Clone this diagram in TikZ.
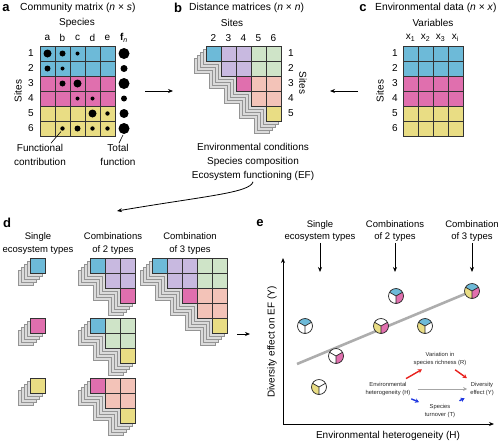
\documentclass[tikz,border=0pt]{standalone}
\usepackage{fontspec}
\setmainfont{Liberation Sans}
\usetikzlibrary{arrows.meta}

\definecolor{siteblue}{HTML}{6DBAD8}
\definecolor{sitepink}{HTML}{E06FAE}
\definecolor{siteyellow}{HTML}{E9DD84}
\definecolor{pairlav}{HTML}{C8B9E0}
\definecolor{pairgreen}{HTML}{CFE4C8}
\definecolor{pairsalmon}{HTML}{F3C3B8}
\definecolor{redpath}{HTML}{E8221E}
\definecolor{bluepath}{HTML}{1E36E0}

\tikzset{
  every node/.style={font=\fontsize{10}{12}\selectfont, inner sep=1pt},
  panelletter/.style={font=\fontsize{13}{13}\selectfont\bfseries},
  paneltitle/.style={anchor=west, font=\fontsize{10.3}{12}\selectfont},
  heading/.style={align=center, font=\fontsize{9.5}{12.5}\selectfont},
  notes/.style={align=center, font=\fontsize{10}{14}\selectfont},
  inset/.style={align=center, font=\fontsize{5.8}{8}\selectfont, text=black!85},
  cellbox/.style={draw=black!80, line width=0.7pt},
  plate/.style={fill=black!14, draw=black!42, line width=0.5pt},
  arr/.style={-{Stealth[length=5pt,width=4pt]}, line width=0.8pt},
  leader/.style={line width=0.6pt},
  axisline/.style={-{Stealth[length=5pt,width=4pt]}, line width=0.9pt},
  trendline/.style={line width=2.6pt, black!32},
  pieline/.style={line width=0.7pt, black!85},
  grayarr/.style={-{Stealth[length=4pt,width=4pt]}, line width=0.8pt, black!35},
  redarr/.style={-{Stealth[length=4pt,width=4.5pt]}, line width=1.4pt, redpath, shorten <=5pt, shorten >=5pt},
  bluearr/.style={-{Stealth[length=4pt,width=4.5pt]}, line width=1.4pt, bluepath, shorten <=5pt, shorten >=5pt},
}

% stacked upper-triangular matrix: x, y, size, cells c/r/colour
\newcommand{\stairmat}[4]{%
  \foreach \d in {4,3,2,1}{%
    \filldraw[plate] ({#1-3*\d},{#2+3*\d}) -- ++({#3*15},0) -- ++(0,{#3*15})
      \foreach \k in {1,...,#3}{ -- ++(-15,0) -- ++(0,-15)} -- cycle;
  }
  \foreach \c/\r/\col in {#4}{%
    \filldraw[cellbox, fill=\col] ({#1+(\c-1)*15},{#2+(\r-1)*15}) rectangle ++(15,15);
  }
}

% three-part circle: name, position, top, lower left, lower right
\newcommand{\ecopie}[5]{%
  \coordinate (#1) at (#2);
  \fill[#3] (#1) -- ++(-30:7.5) arc[start angle=-30, end angle=-150, radius=7.5] -- cycle;
  \fill[#4] (#1) -- ++(-150:7.5) arc[start angle=-150, end angle=-270, radius=7.5] -- cycle;
  \fill[#5] (#1) -- ++(-270:7.5) arc[start angle=-270, end angle=-390, radius=7.5] -- cycle;
  \draw[pieline] (#1) circle[radius=7.5] (#1) -- ++(-30:7.5) (#1) -- ++(-150:7.5) (#1) -- ++(90:7.5);
}

\begin{document}
\begin{tikzpicture}[x=1pt,y=-1pt]
\useasboundingbox (0,0) rectangle (500,442);

% a
\node[panelletter] (alab) at (6,8) {a};
\node[paneltitle] (atitle) at (19,8) {Community matrix (\textit{n} × \textit{s})};
\node (aspecies) at (77,23) {Species};
\foreach \l [count=\c] in {a,b,c,d,e}
  \node (acol\l) at ({32.5+\c*15},38) {\l};
\node (acolf) at (124,38) {\textbf{f}\textsubscript{\textit{n}}};
\node[rotate=90] (asites) at (18,91) {Sites};
\foreach \r/\col in {1/siteblue,2/siteblue,3/sitepink,4/sitepink,5/siteyellow,6/siteyellow}{
  \node (arow\r) at (31,{38.5+\r*15}) {\r};
  \foreach \c in {1,...,5}
    \filldraw[cellbox, fill=\col] ({25+\c*15},{31+\r*15}) rectangle ++(15,15);
}
\foreach \c/\r/\s in {1/1/4,2/1/3,3/1/2,1/2/3,2/2/2,2/3/3,3/3/4,3/4/2,4/4/2,
                      4/5/4,5/5/2.2,2/6/2.2,3/6/3,4/6/2.2,5/6/2.2}{
  \coordinate (dot\c\r) at ({32.5+\c*15},{38.5+\r*15});
  \fill (dot\c\r) circle[radius=\s];
}
\foreach \r/\s in {1/5.5,2/3.5,3/5.5,4/3,5/4.5,6/5.5}{
  \coordinate (f\r) at (124,{38.5+\r*15});
  \fill (f\r) circle[radius=\s];
}
\node[notes] (afunc) at (40,155) {Functional\\contribution};
\node[notes] (atotal) at (118,155) {Total\\function};
\draw[leader] ([xshift=11pt]afunc.north) -- ([shift={(-1.5,3)}]dot26);
\draw[leader] ([xshift=1pt]atotal.north) -- ([shift={(-1,6.5)}]f6);

\coordinate (atob1) at (145,91);
\coordinate (atob2) at (173,91);
\draw[arr] (atob1) -- (atob2);

% b
\node[panelletter] (blab) at (178,8) {b};
\node[paneltitle] (btitle) at (188,8) {Distance matrices (\textit{n} × \textit{n})};
\node (bsites) at (232,23) {Sites};
\foreach \j in {2,...,6}
  \node (bcol\j) at ({213.5+(\j-2)*15},38) {\j};
\foreach \i in {1,...,5}
  \node (brow\i) at (291,{53.5+(\i-1)*15}) {\i};
\node[rotate=-90] (bsitesr) at (303,83) {Sites};
\stairmat{206}{46}{5}{1/1/siteblue,2/1/pairlav,3/1/pairlav,4/1/pairgreen,5/1/pairgreen,
  2/2/pairlav,3/2/pairlav,4/2/pairgreen,5/2/pairgreen,3/3/sitepink,4/3/pairsalmon,
  5/3/pairsalmon,4/4/pairsalmon,5/4/pairsalmon,5/5/siteyellow}
\node[notes] (bnotes) at (253,162) {Environmental conditions\\Species composition\\Ecosystem functioning (EF)};

\coordinate (ctob1) at (358,91);
\coordinate (ctob2) at (330,91);
\draw[arr] (ctob1) -- (ctob2);

% c
\node[panelletter] (clab) at (363,8) {c};
\node[paneltitle] (ctitle) at (374,8) {Environmental data (\textit{n} × \textit{x})};
\node (cvars) at (433,23) {Variables};
\foreach \v [count=\c] in {1,2,3,i}
  \node (ccol\c) at ({395.5+\c*15},38) {x\textsubscript{\v}};
\node[rotate=90] (csites) at (380,91) {Sites};
\foreach \r/\col in {1/siteblue,2/siteblue,3/sitepink,4/sitepink,5/siteyellow,6/siteyellow}{
  \node (crow\r) at (395,{38.5+\r*15}) {\r};
  \foreach \c in {1,...,4}
    \filldraw[cellbox, fill=\col] ({388+\c*15},{31+\r*15}) rectangle ++(15,15);
}

\coordinate (dtip) at (117,211);
\draw[arr] (bnotes.south) .. controls +(-3,11) and (205,196) .. (dtip);

% d
\node[panelletter] (dlab) at (7,223) {d};
\node[heading] (dsingle) at (38,243.5) {Single\\ecosystem types};
\node[heading] (dpairs) at (113,243.5) {Combinations\\of 2 types};
\node[heading] (dtriple) at (190,243.5) {Combination\\of 3 types};
\stairmat{30}{258}{1}{1/1/siteblue}
\stairmat{30}{318}{1}{1/1/sitepink}
\stairmat{30}{378}{1}{1/1/siteyellow}
\stairmat{90}{258}{3}{1/1/siteblue,2/1/pairlav,3/1/pairlav,2/2/pairlav,3/2/pairlav,3/3/sitepink}
\stairmat{90}{318}{3}{1/1/siteblue,2/1/pairgreen,3/1/pairgreen,2/2/pairgreen,3/2/pairgreen,3/3/siteyellow}
\stairmat{90}{378}{3}{1/1/sitepink,2/1/pairsalmon,3/1/pairsalmon,2/2/pairsalmon,3/2/pairsalmon,3/3/siteyellow}
\stairmat{152}{258}{5}{1/1/siteblue,2/1/pairlav,3/1/pairlav,4/1/pairgreen,5/1/pairgreen,
  2/2/pairlav,3/2/pairlav,4/2/pairgreen,5/2/pairgreen,3/3/sitepink,4/3/pairsalmon,
  5/3/pairsalmon,4/4/pairsalmon,5/4/pairsalmon,5/5/siteyellow}

\coordinate (dtoe1) at (237,334);
\coordinate (dtoe2) at (250,334);
\draw[arr] (dtoe1) -- (dtoe2);

% e
\node[panelletter] (elab) at (260,223) {e};
\node[heading] (esingle) at (320,231) {Single\\ecosystem types};
\node[heading] (epairs) at (395,231) {Combinations\\of 2 types};
\node[heading] (etriple) at (472,231) {Combination\\of 3 types};
\coordinate (esingletip) at (320,272);
\coordinate (epairstip) at (395,272);
\coordinate (etripletip) at (472,272);
\draw[arr] (esingle) -- (esingletip);
\draw[arr] (epairs) -- (epairstip);
\draw[arr] (etriple) -- (etripletip);

\coordinate (origin) at (283,424);
\coordinate (ytop) at (283,258);
\coordinate (xend) at (494,424);
\draw[axisline] (origin) -- (ytop);
\draw[axisline] (origin) -- (xend);
\node[rotate=90] (ylabel) at (272,342) {Diversity effect on EF (Y)};
\node (xlabel) at (388,436) {Environmental heterogeneity (H)};

\coordinate (trendlow) at (297,364);
\coordinate (trendhigh) at (472,291);
\draw[trendline] (trendlow) -- (trendhigh);

\ecopie{pieb}{305,326}{siteblue}{white}{white}
\ecopie{piep}{336,356}{white}{white}{sitepink}
\ecopie{piey}{319,387}{white}{siteyellow}{white}
\ecopie{piebp}{396,296}{siteblue}{white}{sitepink}
\ecopie{pieyp}{381,326}{white}{siteyellow}{sitepink}
\ecopie{pieby}{425,326}{siteblue}{siteyellow}{white}
\ecopie{piebyp}{472,291}{siteblue}{siteyellow}{sitepink}

\node[inset] (hetero) at (388,389) {Environmental\\heterogeneity (H)};
\node[inset] (richness) at (440,359) {Variation in\\species richness (R)};
\node[inset] (divy) at (482,389) {Diversity\\effect (Y)};
\node[inset] (turnover) at (440,411) {Species\\turnover (T)};
\draw[grayarr, shorten <=6pt, shorten >=2pt] (hetero) -- (divy);
\draw[redarr] (hetero) -- (richness);
\draw[redarr] (richness) -- (divy);
\draw[bluearr] (hetero) -- (turnover);
\draw[bluearr] (turnover) -- (divy);

\end{tikzpicture}
\end{document}
